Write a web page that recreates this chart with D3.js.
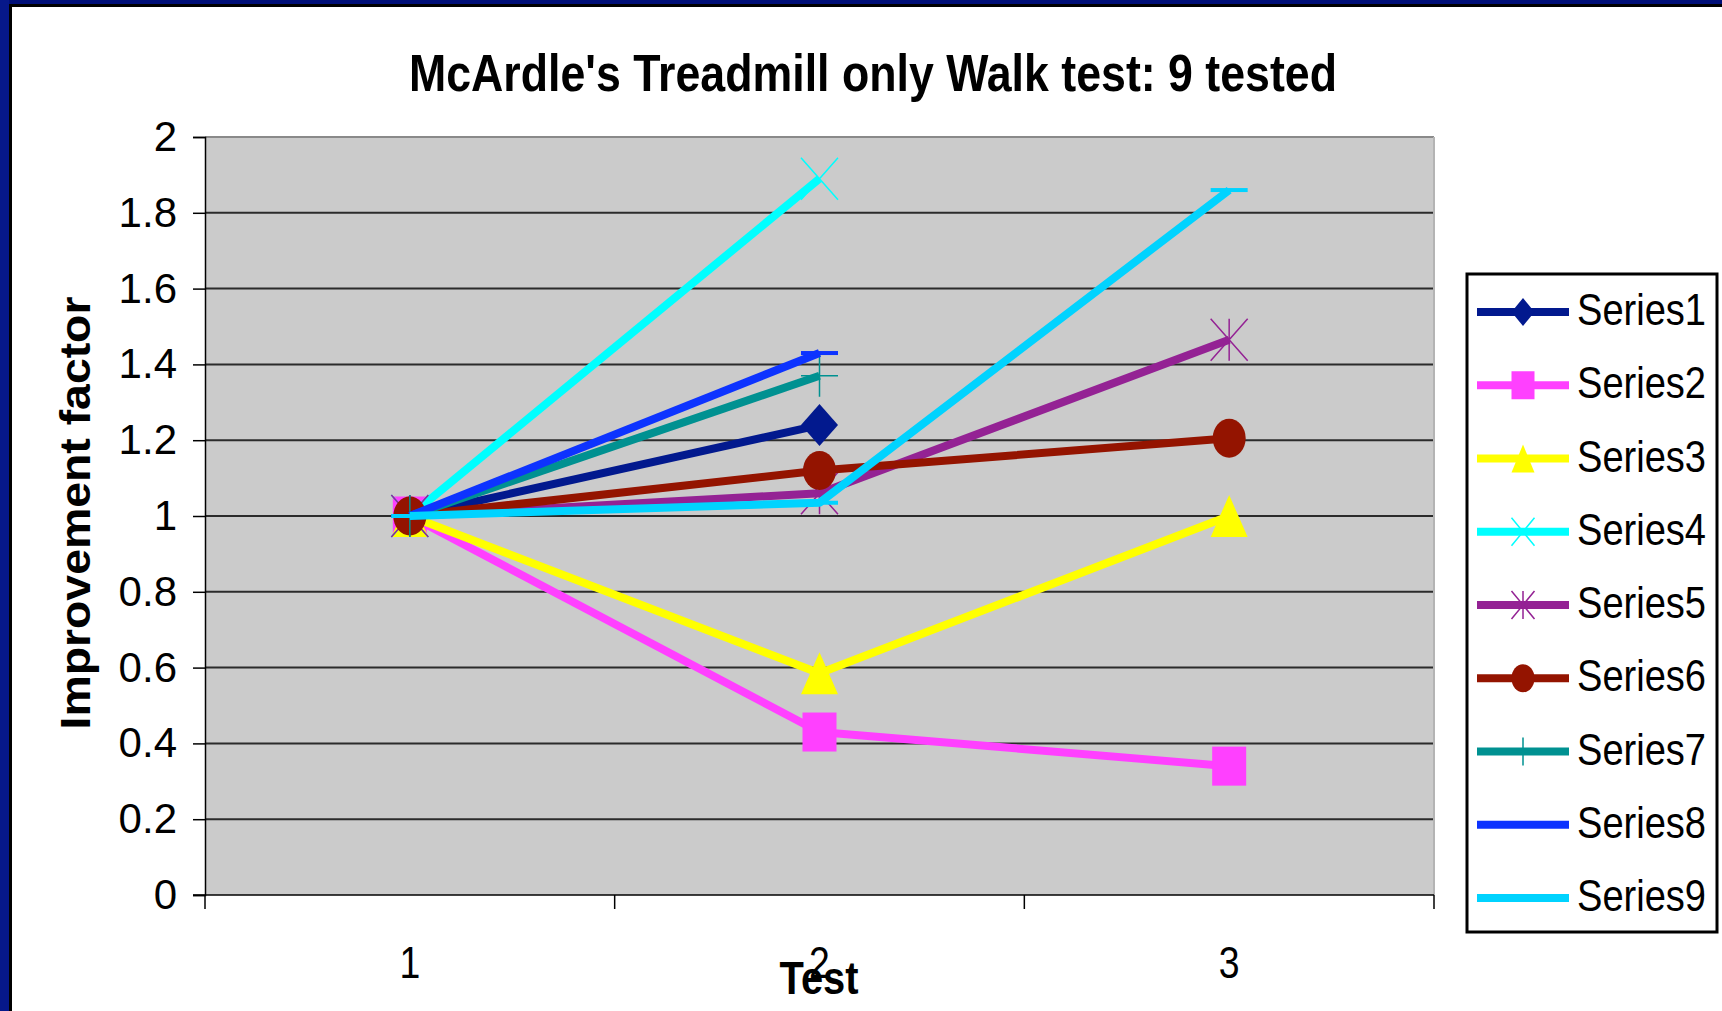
<!DOCTYPE html>
<html>
<head>
<meta charset="utf-8">
<script src="https://cdn.jsdelivr.net/npm/d3@7"></script>
<style>
  html, body { margin: 0; padding: 0; background: #fff; }
  svg { display: block; font-family: "Liberation Sans", Arial, sans-serif; }
</style>
</head>
<body>
<div class="chart"></div>
<script>
const categories = ['1', '2', '3'];
const yTicks = [0, 0.2, 0.4, 0.6, 0.8, 1, 1.2, 1.4, 1.6, 1.8, 2];
const seriesNames = ['Series1', 'Series2', 'Series3', 'Series4', 'Series5', 'Series6', 'Series7', 'Series8', 'Series9'];
const series1 = [1, 1.24, null];
const series2 = [1, 0.43, 0.34];
const series3 = [1, 0.585, 1.0];
const series4 = [1, 1.89, null];
const series5 = [1, 1.06, 1.465];
const series6 = [1, 1.12, 1.205];
const series7 = [1, 1.37, null];
const series8 = [1, 1.43, null];
const series9 = [1, 1.035, 1.86];
const seriesColors = ['#02198e', '#ff40ff', '#ffff00', '#00ffff', '#942294', '#941400', '#009191', '#0d33ff', '#00d3ff'];
const seriesMarkers = ['diamond', 'square', 'triangle', 'x', 'star', 'circle', 'plus', 'dash', 'dash'];

(function() {
  'use strict';

  let width = 1722,
      height = 1011,
      plot = { left: 205, right: 1434, top: 137, bottom: 895 },
      allSeries = [series1, series2, series3, series4, series5, series6, series7, series8, series9],

      svg = d3.select('.chart')
        .append('svg')
        .attr('width', width)
        .attr('height', height),

      x = d3.scaleBand()
        .domain(categories)
        .range([plot.left, plot.right]),

      y = d3.scaleLinear()
        .domain([0, 2])
        .range([plot.bottom, plot.top]),

      cx = (i) => x(categories[i]) + x.bandwidth() / 2,

      /**
       * Squeeze text horizontally, the original fonts are narrow
       */
      squeeze = (sel, factor) => {
        sel.each(function() {
          let w = this.getComputedTextLength();
          d3.select(this)
            .attr('textLength', w * factor)
            .attr('lengthAdjust', 'spacingAndGlyphs');
        });
      },

      /**
       * Draw one marker of the given type
       */
      marker = (g, type, px, py, w, h, color) => {
        let hw = w / 2, hh = h / 2;
        switch (type) {
          case 'diamond':
            g.append('path')
              .attr('d', `M${px},${py - hh}L${px + hw},${py}L${px},${py + hh}L${px - hw},${py}Z`)
              .attr('fill', color);
            break;
          case 'square':
            g.append('rect')
              .attr('x', px - hw).attr('y', py - hh)
              .attr('width', w).attr('height', h)
              .attr('fill', color);
            break;
          case 'triangle':
            g.append('path')
              .attr('d', `M${px},${py - hh}L${px + hw},${py + hh}L${px - hw},${py + hh}Z`)
              .attr('fill', color);
            break;
          case 'circle':
            g.append('ellipse')
              .attr('cx', px).attr('cy', py)
              .attr('rx', hw).attr('ry', hh)
              .attr('fill', color);
            break;
          case 'x':
          case 'star':
            g.append('path')
              .attr('d', `M${px - hw},${py - hh}L${px + hw},${py + hh}M${px - hw},${py + hh}L${px + hw},${py - hh}` +
                (type === 'star' ? `M${px},${py - hh}L${px},${py + hh}` : ''))
              .attr('stroke', color)
              .attr('stroke-width', 1.5)
              .attr('fill', 'none');
            break;
          case 'plus':
            g.append('path')
              .attr('d', `M${px - hw},${py}L${px + hw},${py}M${px},${py - hh}L${px},${py + hh}`)
              .attr('stroke', color)
              .attr('stroke-width', 1.5)
              .attr('fill', 'none');
            break;
          case 'dash':
            g.append('rect')
              .attr('x', px - hw).attr('y', py - 2)
              .attr('width', w).attr('height', 4)
              .attr('fill', color);
            break;
          default:
            break;
        }
      },

      drawFrame = () => {
        svg.append('rect')
          .attr('x', 0).attr('y', 0)
          .attr('width', width).attr('height', 5)
          .attr('fill', '#000f78');
        svg.append('rect')
          .attr('x', 0).attr('y', 0)
          .attr('width', 9).attr('height', height)
          .attr('fill', '#06188a');
        svg.append('path')
          .attr('d', `M${width},5.5H10.5V${height}`)
          .attr('stroke', '#000')
          .attr('stroke-width', 3)
          .attr('fill', 'none');
      },

      drawPlot = () => {
        svg.append('rect')
          .attr('x', plot.left).attr('y', plot.top)
          .attr('width', plot.right - plot.left)
          .attr('height', plot.bottom - plot.top)
          .attr('fill', '#cbcbcb');

        // Gridlines
        svg.append('g')
          .selectAll('line')
          .data(yTicks.slice(1, -1))
          .enter()
          .append('line')
            .attr('x1', plot.left).attr('x2', plot.right)
            .attr('y1', d => y(d)).attr('y2', d => y(d))
            .attr('stroke', '#2b2b2b')
            .attr('stroke-width', 2);

        svg.append('line')
          .attr('x1', plot.left).attr('x2', plot.right)
          .attr('y1', plot.top).attr('y2', plot.top)
          .attr('stroke', '#8a8a8a').attr('stroke-width', 2);
        svg.append('line')
          .attr('x1', plot.right).attr('x2', plot.right)
          .attr('y1', plot.top).attr('y2', plot.bottom)
          .attr('stroke', '#b4b4b4').attr('stroke-width', 2);

        // Y axis
        let yAxis = svg.append('g')
          .attr('transform', `translate(${plot.left},0)`)
          .call(d3.axisLeft(y).tickValues(yTicks).tickSize(12).tickPadding(16).tickFormat(d3.format('~g')));
        yAxis.select('.domain').attr('stroke', '#000').attr('stroke-width', 1.5);
        yAxis.selectAll('.tick line').attr('stroke', '#000').attr('stroke-width', 1.5);
        yAxis.selectAll('.tick text')
          .attr('font-size', 42)
          .attr('fill', '#000')
          .attr('font-family', '"Liberation Sans", Arial, sans-serif');

        // X axis, ticks between the categories
        let xAxis = svg.append('g')
          .attr('transform', `translate(0,${plot.bottom})`)
          .call(d3.axisBottom(x).tickSize(0).tickPadding(52));
        xAxis.select('.domain').remove();
        xAxis.selectAll('.tick text')
          .attr('font-size', 44)
          .attr('fill', '#000')
          .attr('font-family', '"Liberation Sans", Arial, sans-serif')
          .call(squeeze, 0.85);

        svg.append('line')
          .attr('x1', plot.left - 12).attr('x2', plot.right)
          .attr('y1', plot.bottom).attr('y2', plot.bottom)
          .attr('stroke', '#000').attr('stroke-width', 1.5);
        svg.append('g')
          .selectAll('line')
          .data(x.domain().map(d => x(d)).concat([plot.right]))
          .enter()
          .append('line')
            .attr('x1', d => d).attr('x2', d => d)
            .attr('y1', plot.bottom).attr('y2', plot.bottom + 14)
            .attr('stroke', '#000').attr('stroke-width', 1.5);
      },

      drawSeries = () => {
        let line = d3.line()
          .defined(d => d.v !== null)
          .x(d => cx(d.i))
          .y(d => y(d.v));

        allSeries.forEach((values, s) => {
          let g = svg.append('g'),
              pts = values.map((v, i) => ({ v: v, i: i }));

          g.append('path')
            .datum(pts)
            .attr('d', line)
            .attr('fill', 'none')
            .attr('stroke', seriesColors[s])
            .attr('stroke-width', 8)
            .attr('stroke-linejoin', 'round');

          pts.filter(d => d.v !== null).forEach(d => {
            let w = 37, h = 42;
            if (seriesMarkers[s] === 'square') { w = 34; h = 39; }
            if (seriesMarkers[s] === 'circle') { w = 33; h = 39; }
            marker(g, seriesMarkers[s], cx(d.i), y(d.v), w, h, seriesColors[s]);
          });
        });
      },

      drawTexts = () => {
        svg.append('text')
          .attr('x', 409).attr('y', 91)
          .attr('font-size', 52)
          .attr('font-weight', 'bold')
          .attr('textLength', 928)
          .attr('lengthAdjust', 'spacingAndGlyphs')
          .text("McArdle's Treadmill only Walk test: 9 tested");

        svg.append('text')
          .attr('transform', 'translate(90,513) rotate(-90)')
          .attr('text-anchor', 'middle')
          .attr('font-size', 43)
          .attr('font-weight', 'bold')
          .attr('textLength', 433)
          .attr('lengthAdjust', 'spacingAndGlyphs')
          .text('Improvement factor');

        svg.append('text')
          .attr('x', 819).attr('y', 994)
          .attr('text-anchor', 'middle')
          .attr('font-size', 46)
          .attr('font-weight', 'bold')
          .attr('textLength', 79)
          .attr('lengthAdjust', 'spacingAndGlyphs')
          .text('Test');
      },

      drawLegend = () => {
        let legend = svg.append('g');

        legend.append('rect')
          .attr('x', 1467).attr('y', 274)
          .attr('width', 250).attr('height', 658)
          .attr('fill', '#fff')
          .attr('stroke', '#000')
          .attr('stroke-width', 3);

        let rowY = d3.scaleLinear().domain([0, 8]).range([312, 898]);

        seriesNames.forEach((name, s) => {
          let ly = rowY(s);
          legend.append('line')
            .attr('x1', 1477).attr('x2', 1569)
            .attr('y1', ly).attr('y2', ly)
            .attr('stroke', seriesColors[s])
            .attr('stroke-width', 8);
          if (seriesMarkers[s] !== 'dash') {
            marker(legend, seriesMarkers[s], 1523, ly, 23, 28, seriesColors[s]);
          }
          legend.append('text')
            .attr('x', 1577).attr('y', ly + 13)
            .attr('font-size', 45)
            .attr('textLength', 129)
            .attr('lengthAdjust', 'spacingAndGlyphs')
            .text(name);
        });
      };

  drawFrame();
  drawPlot();
  drawSeries();
  drawTexts();
  drawLegend();
})();
</script>
</body>
</html>
